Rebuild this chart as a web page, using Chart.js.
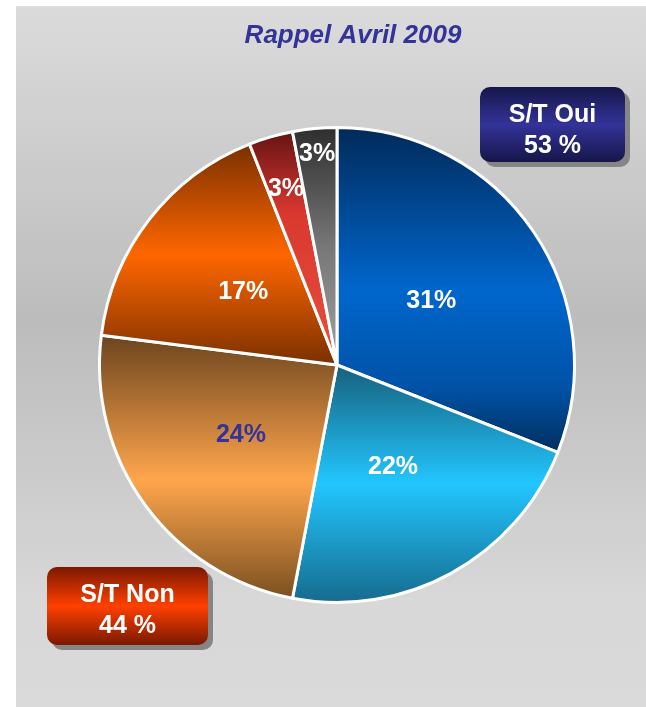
<!DOCTYPE html>
<html>
<head>
<meta charset="utf-8">
<script src="https://cdn.jsdelivr.net/npm/chart.js@4/dist/chart.umd.min.js"></script>
<style>
  html, body { margin: 0; padding: 0; background: #fff; }
  #wrap { position: relative; width: 646px; height: 707px; }
</style>
</head>
<body>
<div id="wrap"><canvas id="pie" width="646" height="707"></canvas></div>
<script>
// data
const chartTitle = 'Rappel Avril 2009';
const categories = ['Oui, tout à fait', 'Oui, plutôt', 'Non, plutôt pas', 'Non, pas vraiment', 'Non, pas du tout', 'NSP'];
const values = [31, 22, 24, 17, 3, 3];
const subtotalLabels = ['S/T Oui', 'S/T Non'];
const subtotalValues = [53, 44];

// styling: vertical shading of each slice (dark edge -> bright -> dark edge)
const sliceShades = [
  [[0, '#012a5a'], [0.5, '#0066cc'], [0.8, '#0052a6'], [1, '#002f5f']],
  [[0, '#17607c'], [0.5, '#22c6ff'], [1, '#166b8d']],
  [[0, '#6c441e'], [0.55, '#ffa64d'], [1, '#7a5020']],
  [[0, '#7a3000'], [0.5, '#ff6600'], [1, '#7a3000']],
  [[0, '#661414'], [0.35, '#d9382f'], [1, '#e8503c']],
  [[0, '#2e2e2e'], [0.5, '#777777'], [1, '#a0a0a0']]
];
const labelColors = ['#ffffff', '#ffffff', '#333399', '#ffffff', '#ffffff', '#ffffff'];
const labelRadius = [0.48, 0.49, 0.5, 0.5, 0.77, 0.89];
const FONT = '"Liberation Sans", Arial, sans-serif';

function roundRect(ctx, x, y, w, h, r) {
  ctx.beginPath();
  ctx.moveTo(x + r, y);
  ctx.arcTo(x + w, y, x + w, y + h, r);
  ctx.arcTo(x + w, y + h, x, y + h, r);
  ctx.arcTo(x, y + h, x, y, r);
  ctx.arcTo(x, y, x + w, y, r);
  ctx.closePath();
}

const panelBackground = {
  id: 'panelBackground',
  beforeDraw(chart) {
    const ctx = chart.ctx;
    const g = ctx.createLinearGradient(0, 6, 0, 707);
    g.addColorStop(0, '#dbdbdb');
    g.addColorStop(0.45, '#bcbcbc');
    g.addColorStop(0.85, '#d8d8d8');
    g.addColorStop(1, '#dadada');
    ctx.save();
    ctx.fillStyle = g;
    ctx.fillRect(16, 6, chart.width - 16, chart.height - 6);
    ctx.font = 'italic bold 26px ' + FONT;
    ctx.fillStyle = '#333399';
    ctx.textAlign = 'center';
    ctx.textBaseline = 'alphabetic';
    ctx.fillText(chartTitle, 353, 43);
    ctx.restore();
  }
};

const sliceGradients = {
  id: 'sliceGradients',
  beforeDatasetsDraw(chart) {
    const ctx = chart.ctx;
    chart.getDatasetMeta(0).data.forEach((arc, i) => {
      const p = arc.getProps(['x', 'y', 'startAngle', 'endAngle', 'outerRadius'], true);
      let top = p.y, bottom = p.y;
      for (let k = 0; k <= 60; k++) {
        const a = p.startAngle + (p.endAngle - p.startAngle) * k / 60;
        const py = p.y + Math.sin(a) * p.outerRadius;
        top = Math.min(top, py);
        bottom = Math.max(bottom, py);
      }
      const g = ctx.createLinearGradient(0, top, 0, bottom);
      sliceShades[i].forEach(([o, c]) => g.addColorStop(o, c));
      arc.options.backgroundColor = g;
    });
  }
};

const sliceLabels = {
  id: 'sliceLabels',
  afterDatasetsDraw(chart) {
    const ctx = chart.ctx;
    const total = values.reduce((a, b) => a + b, 0);
    ctx.save();
    ctx.font = 'bold 25px ' + FONT;
    ctx.textAlign = 'center';
    ctx.textBaseline = 'middle';
    chart.getDatasetMeta(0).data.forEach((arc, i) => {
      const p = arc.getProps(['x', 'y', 'startAngle', 'endAngle', 'outerRadius'], true);
      const mid = (p.startAngle + p.endAngle) / 2;
      const r = p.outerRadius * labelRadius[i];
      ctx.fillStyle = labelColors[i];
      ctx.fillText(Math.round(values[i] / total * 100) + '%', p.x + Math.cos(mid) * r, p.y + Math.sin(mid) * r);
    });
    ctx.restore();
  }
};

const subtotalBoxes = {
  id: 'subtotalBoxes',
  afterDraw(chart) {
    const ctx = chart.ctx;
    const boxes = [
      { x: 480, y: 87, w: 145, h: 75, stops: ['#16164a', '#333399', '#16164a'] },
      { x: 47, y: 567, w: 161, h: 78, stops: ['#7a1800', '#ff4000', '#7a1800'] }
    ];
    boxes.forEach((b, i) => {
      ctx.save();
      roundRect(ctx, b.x + 5, b.y + 5, b.w, b.h, 10);
      ctx.fillStyle = '#858585';
      ctx.fill();
      const g = ctx.createLinearGradient(0, b.y, 0, b.y + b.h);
      g.addColorStop(0, b.stops[0]);
      g.addColorStop(0.5, b.stops[1]);
      g.addColorStop(1, b.stops[2]);
      roundRect(ctx, b.x, b.y, b.w, b.h, 10);
      ctx.fillStyle = g;
      ctx.fill();
      ctx.fillStyle = '#ffffff';
      ctx.font = 'bold 25px ' + FONT;
      ctx.textAlign = 'center';
      ctx.textBaseline = 'alphabetic';
      const cx = b.x + b.w / 2;
      ctx.fillText(subtotalLabels[i], cx, b.y + 35);
      ctx.fillText(subtotalValues[i] + ' %', cx, b.y + 66);
      ctx.restore();
    });
  }
};

new Chart(document.getElementById('pie'), {
  type: 'pie',
  data: {
    labels: categories,
    datasets: [{
      data: values,
      backgroundColor: sliceShades.map(s => s[1][1]),
      borderColor: '#ffffff',
      borderWidth: 3
    }]
  },
  options: {
    responsive: false,
    animation: false,
    devicePixelRatio: 1,
    layout: { padding: { left: 98, right: 70, top: 126, bottom: 103 } },
    plugins: {
      legend: { display: false },
      tooltip: { enabled: false },
      title: { display: false }
    }
  },
  plugins: [panelBackground, sliceGradients, sliceLabels, subtotalBoxes]
});
</script>
</body>
</html>
